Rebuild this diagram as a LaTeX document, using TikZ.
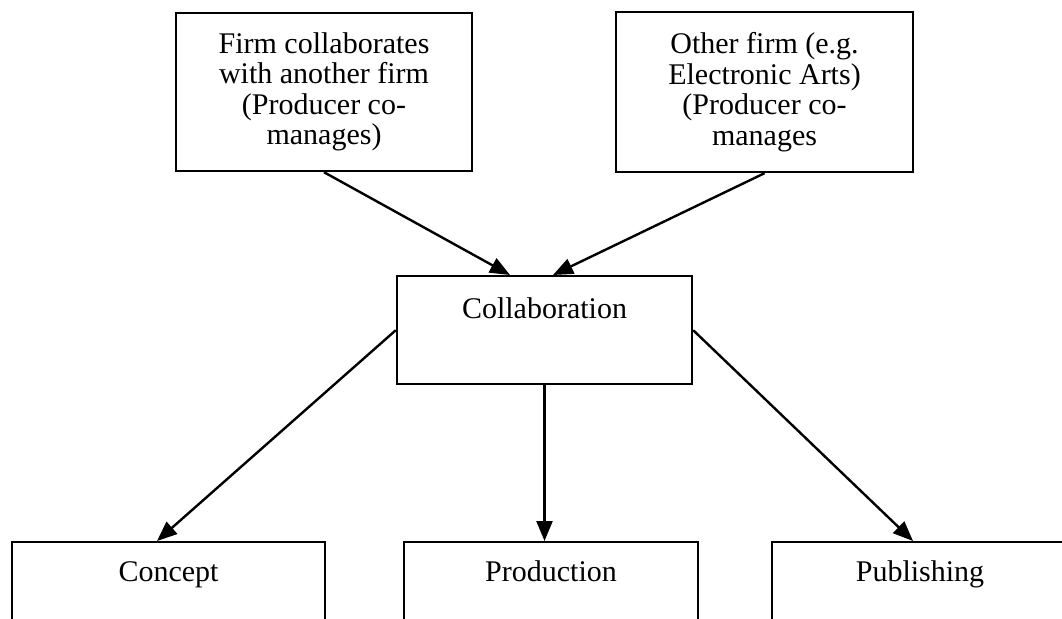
\documentclass[tikz,border=0pt]{standalone}
\usepackage{fontspec}
\setmainfont{Liberation Serif}
\usetikzlibrary{arrows.meta}
\begin{document}
\begin{tikzpicture}[x=1pt,y=-1pt,
	khung/.style={draw,line width=2.4pt,inner sep=0pt,align=center,font=\fontsize{30}{30.5}\selectfont},
	noi/.style={line width=2.4pt,-{Triangle[length=20pt,width=16pt]}}]%SO DO HOP TAC
		\useasboundingbox (0,0) rectangle (1062,618);
		\clip (0,0) rectangle (1062,618);
		\node[khung,minimum width=296pt,minimum height=158pt] (hang) at (324,92) {Firm collaborates\\with another firm\\(Producer co-\\manages)};
		\node[khung,minimum width=297pt,minimum height=160pt] (khac) at (764.5,92) {Other firm (e.g.\\Electronic Arts)\\(Producer co-\\manages};
		\node[khung,anchor=north,text width=295pt,text height=42pt,text depth=66pt] (hoptac) at (544.5,275) {Collaboration};
		\node[khung,anchor=north,text width=313pt,text height=39pt,text depth=71pt] (ytuong) at (168.5,541) {Concept};
		\node[khung,anchor=north,text width=294pt,text height=39pt,text depth=71pt] (sanxuat) at (551,541) {Production};
		\node[khung,anchor=north,text width=296pt,text height=39pt,text depth=71pt] (phathanh) at (920,541) {Publishing};
		\draw[noi] (hang.south) -- ([xshift=-34.5pt]hoptac.north);
		\draw[noi] (khac.south) -- ([xshift=8.5pt]hoptac.north);
		\draw[noi] (hoptac.west) -- ([xshift=-11.5pt]ytuong.north);
		\draw[noi] (hoptac.south) -- (hoptac.south |- sanxuat.north);
		\draw[noi] (hoptac.east) -- ([xshift=-7pt]phathanh.north);
		\end{tikzpicture}
\end{document}
